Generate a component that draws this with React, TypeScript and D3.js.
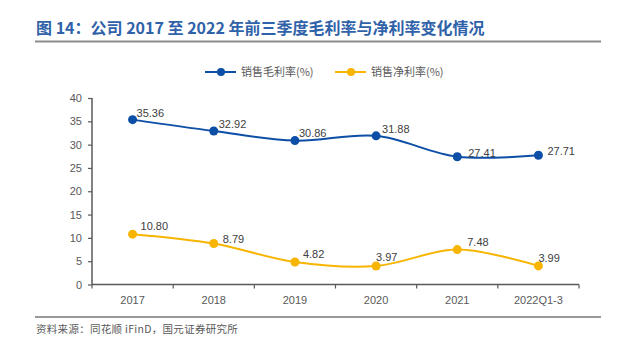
import React, { useEffect, useRef } from 'react';
import * as d3 from 'd3';

const categories = ['2017', '2018', '2019', '2020', '2021', '2022Q1-3'];
const grossMargin = [35.36, 32.92, 30.86, 31.88, 27.41, 27.71];
const netMargin = [10.8, 8.79, 4.82, 3.97, 7.48, 3.99];
const yTicks = [0, 5, 10, 15, 20, 25, 30, 35, 40];
const seriesNames = ['销售毛利率(%)', '销售净利率(%)'];
const seriesColors = ['#0d4ea6', '#f7b500'];
// label nudges (dx, dy) as placed in the original chart
const grossLabelOffset = [[4, -3], [5, -3], [4, -4], [6, -3], [11, 0], [9, 0]];
const netLabelOffset = [[8, -4], [9, -1], [8, -4], [0, -5], [10, -4], [0, -4]];

const W = 617;
const H = 353;
const font = '"Liberation Sans", Arial, sans-serif';
const cjk = '"Noto Sans CJK SC", sans-serif';

export default function App() {
  const ref = useRef<SVGSVGElement>(null);

  useEffect(() => {
    const svg = d3.select(ref.current);
    svg.selectAll('*').remove();

    // title
    svg.append('text')
      .attr('x', 36).attr('y', 34)
      .attr('fill', '#2f62a8')
      .attr('font-size', 16).attr('font-weight', 'bold')
      .attr('font-family', cjk)
      .text('图 14：公司 2017 至 2022 年前三季度毛利率与净利率变化情况');
    svg.append('line')
      .attr('x1', 35).attr('x2', 601).attr('y1', 41.5).attr('y2', 41.5)
      .attr('stroke', '#8c8c8c').attr('stroke-width', 2);

    const x = d3.scaleBand().domain(categories).range([92, 579]);
    const y = d3.scaleLinear().domain([0, 40]).range([284.5, 98]);

    // legend
    const legendX = [205, 335];
    seriesNames.forEach((name, i) => {
      const g = svg.append('g');
      g.append('line')
        .attr('x1', legendX[i]).attr('x2', legendX[i] + 31)
        .attr('y1', 72).attr('y2', 72)
        .attr('stroke', seriesColors[i]).attr('stroke-width', 2);
      g.append('circle')
        .attr('cx', legendX[i] + 16).attr('cy', 72).attr('r', 4)
        .attr('fill', seriesColors[i]);
      g.append('text')
        .attr('x', legendX[i] + 36).attr('y', 76)
        .attr('font-size', 11).attr('fill', '#595959')
        .attr('font-family', cjk)
        .text(name);
    });

    // axes
    const yAxis = svg.append('g')
      .attr('transform', 'translate(92,0)')
      .call(d3.axisLeft(y).tickValues(yTicks).tickSize(4).tickPadding(6));
    const xAxis = svg.append('g')
      .attr('transform', `translate(0,${y(0)})`)
      .call(d3.axisBottom(x).tickSize(0).tickPadding(12));
    d3.range(categories.length + 1).forEach(i => {
      const px = 92 + i * x.step();
      xAxis.append('line').attr('x1', px).attr('x2', px).attr('y1', 0).attr('y2', 4);
    });

    [yAxis, xAxis].forEach(ax => {
      ax.select('.domain').attr('stroke', '#595959').attr('stroke-width', 1.5);
      ax.selectAll('line').attr('stroke', '#595959').attr('stroke-width', 1.2);
      ax.selectAll('text')
        .attr('fill', '#595959').attr('font-size', 11).attr('font-family', font);
    });
    xAxis.select('.domain').attr('d', 'M92,0H579');
    yAxis.select('.domain').attr('d', `M0,${y(0)}V${y(40)}`);

    // series
    const cx = (i: number) => (x(categories[i]) as number) + x.bandwidth() / 2;
    const offsets = [grossLabelOffset, netLabelOffset];
    [grossMargin, netMargin].forEach((vals, s) => {
      const line = d3.line<number>()
        .x((_, i) => cx(i)).y(d => y(d))
        .curve(d3.curveCatmullRom.alpha(0.5));
      svg.append('path')
        .attr('d', line(vals) as string)
        .attr('fill', 'none')
        .attr('stroke', seriesColors[s]).attr('stroke-width', 2);
      vals.forEach((v, i) => {
        svg.append('circle')
          .attr('cx', cx(i)).attr('cy', y(v)).attr('r', 4.5)
          .attr('fill', seriesColors[s]);
        svg.append('text')
          .attr('x', cx(i) + offsets[s][i][0]).attr('y', y(v) + offsets[s][i][1])
          .attr('font-size', 11).attr('fill', '#404040')
          .attr('font-family', font)
          .text(v.toFixed(2));
      });
    });

    // footer
    svg.append('line')
      .attr('x1', 35).attr('x2', 601).attr('y1', 317).attr('y2', 317)
      .attr('stroke', '#333').attr('stroke-width', 1);
    svg.append('text')
      .attr('x', 36).attr('y', 333)
      .attr('font-size', 10.5).attr('fill', '#595959')
      .attr('letter-spacing', 0.3)
      .attr('font-family', cjk)
      .text('资料来源：同花顺 iFinD，国元证券研究所');
  }, []);

  return (
    <svg ref={ref} width={W} height={H}
      style={{ position: 'absolute', left: 0, top: 0, background: '#fff' }} />
  );
}
